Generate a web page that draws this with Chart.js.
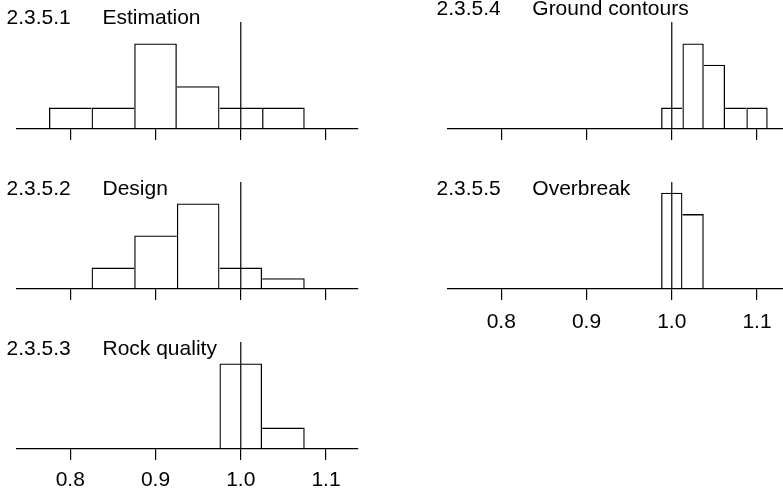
<!DOCTYPE html>
<html><head><meta charset="utf-8">
<script src="https://cdn.jsdelivr.net/npm/chart.js@4/dist/chart.umd.min.js"></script>
<style>
html,body{margin:0;padding:0;background:#fff;width:783px;height:493px;overflow:hidden;position:relative}
canvas{position:absolute}
.t{position:absolute;font-family:"Liberation Sans",Arial,sans-serif;font-size:21px;line-height:21px;color:#000;white-space:nowrap}
</style></head><body>
<script>
// ---- data ----
const tickValues = [0.8, 0.9, 1.0, 1.1];
const tickLabels = ['0.8', '0.9', '1.0', '1.1'];
const referenceValue = 1.0;
const panelNumbers = ['2.3.5.1', '2.3.5.2', '2.3.5.3', '2.3.5.4', '2.3.5.5'];
const panelNames = ['Estimation', 'Design', 'Rock quality', 'Ground contours', 'Overbreak'];
const estimationBins = [0.80, 0.85, 0.90, 0.95, 1.00, 1.05];
const estimationCounts = [1, 1, 4, 2, 1, 1];
const designBins = [0.85, 0.90, 0.95, 1.00, 1.05];
const designCounts = [2, 5, 8, 2, 1];
const rockBins = [1.00, 1.05];
const rockCounts = [4, 1];
const groundBins = [1.000, 1.025, 1.050, 1.075, 1.100];
const groundCounts = [1, 4, 3, 1, 1];
const overbreakBins = [1.000, 1.025];
const overbreakCounts = [9, 7];
const panelYMax = [5, 10, 5, 5, 10];
const xMin = 0.7375, xMax = 1.1375;

// ---- layout ----
const layouts = [
  {left: 0,   top: 0,   h: 160, labels: false, pad: 8,  numX: 6.5,   nameX: 102.5, titleTop: 5.5},
  {left: 0,   top: 160, h: 160, labels: false, pad: 8,  numX: 6.5,   nameX: 102.5, titleTop: 176.5},
  {left: 0,   top: 320, h: 173, labels: true,  pad: 8,  numX: 6.5,   nameX: 102.5, titleTop: 336.5},
  {left: 431, top: 0,   h: 160, labels: false, pad: 10, numX: 436.5, nameX: 532.3, titleTop: -2.8},
  {left: 431, top: 160, h: 173, labels: true,  pad: 10, numX: 436.5, nameX: 532.3, titleTop: 176.5}
];
const panels = [
  [estimationBins, estimationCounts],
  [designBins, designCounts],
  [rockBins, rockCounts],
  [groundBins, groundCounts],
  [overbreakBins, overbreakCounts]
];
const BW = 1.3;

function addText(txt, x, y) {
  const d = document.createElement('div');
  d.className = 't';
  d.textContent = txt;
  d.style.left = x + 'px';
  d.style.top = y + 'px';
  document.body.appendChild(d);
}

function barBorder(ctx) {
  const d = ctx.dataset.data, i = ctx.dataIndex;
  if (!d || i === undefined) return BW;
  const h = d[i].y;
  const last = d.length - 1;
  return {
    left: (i === 0 || h >= d[i - 1].y) ? BW : 0,
    right: (i === last || h > d[i + 1].y) ? BW : 0,
    top: BW,
    bottom: 0
  };
}

panels.forEach(([bins, counts], i) => {
  const L = layouts[i];
  const c = document.createElement('canvas');
  c.width = 375; c.height = L.h;
  c.style.left = L.left + 'px'; c.style.top = L.top + 'px';
  c.style.width = '375px'; c.style.height = L.h + 'px';
  document.body.appendChild(c);
  const ymax = panelYMax[i];
  new Chart(c, {
    type: 'bar',
    data: {
      datasets: [
        {
          type: 'line',
          data: [{x: referenceValue, y: 0}, {x: referenceValue, y: ymax}],
          borderColor: '#000', borderWidth: 1.2, pointRadius: 0, order: 0, clip: false
        },
        {
          type: 'bar',
          data: bins.map((x, k) => ({x: x, y: counts[k]})),
          backgroundColor: 'rgba(0,0,0,0)', borderColor: '#000',
          borderWidth: barBorder, borderSkipped: false,
          barPercentage: 1, categoryPercentage: 1, inflateAmount: 0, order: 1
        }
      ]
    },
    options: {
      responsive: false, animation: false, devicePixelRatio: 1,
      layout: {padding: {left: 17, right: 17, top: 22, bottom: 0}},
      plugins: {legend: {display: false}, tooltip: {enabled: false}, title: {display: false}},
      scales: {
        x: {
          type: 'linear', min: xMin, max: xMax, offset: false,
          afterBuildTicks: s => { s.ticks = tickValues.map(v => ({value: v})); },
          afterFit: s => { s.height = L.h - 129; },
          ticks: {
            display: L.labels, autoSkip: false, maxRotation: 0, padding: L.pad,
            callback: (v, idx) => tickLabels[idx],
            font: {family: 'Liberation Sans', size: 21}, color: '#000'
          },
          grid: {offset: false, drawOnChartArea: false, drawTicks: true, tickLength: 11, color: '#000', lineWidth: 1.2},
          border: {display: true, color: '#000', width: 1.2}
        },
        y: {display: false, min: 0, max: ymax}
      }
    }
  });
  addText(panelNumbers[i], L.numX, L.titleTop);
  addText(panelNames[i], L.nameX, L.titleTop);
});
</script>
</body></html>
